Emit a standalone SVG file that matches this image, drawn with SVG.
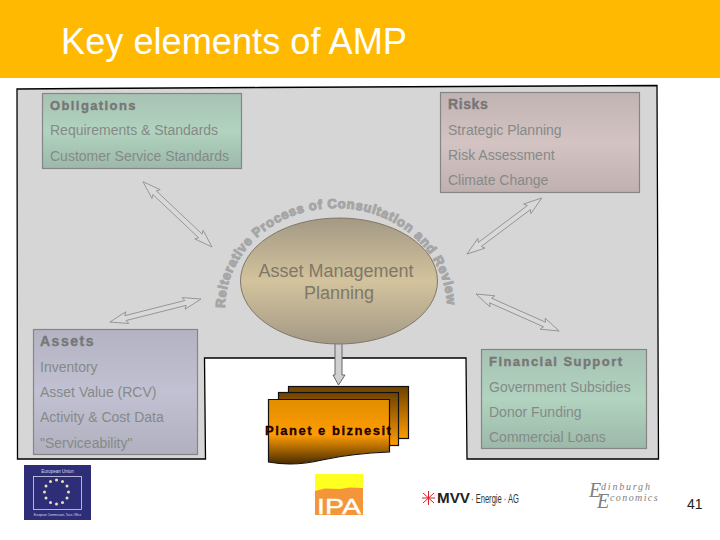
<svg xmlns="http://www.w3.org/2000/svg" width="720" height="540" viewBox="0 0 720 540">
<style>
text{font-family:"Liberation Sans",Arial,sans-serif}
.t{font-size:14px;fill:#858a88}
.h{font-size:13px;font-weight:bold;fill:#777;stroke:#777;stroke-width:.4;letter-spacing:1.4px}
.box{stroke:#858585;stroke-width:1.2}
.arr{fill:#d9d9d9;stroke:#8c8c8c;stroke-width:.8}
.doc{stroke:#111;stroke-width:1.2}
.s{font-style:italic;fill:#808080}
.s,.s *{font-family:"Liberation Serif",serif}
</style>
<defs>
<linearGradient id="gG" x1="0" y1="0" x2="0" y2="1"><stop offset="0" stop-color="#a7c2b3"/><stop offset=".5" stop-color="#b1d3bf"/><stop offset="1" stop-color="#9cb8a9"/></linearGradient>
<linearGradient id="gR" x1="0" y1="0" x2="0" y2="1"><stop offset="0" stop-color="#c2b3b3"/><stop offset=".5" stop-color="#d3c3c3"/><stop offset="1" stop-color="#c0b0b0"/></linearGradient>
<linearGradient id="gA" x1="0" y1="0" x2="0" y2="1"><stop offset="0" stop-color="#b3b3c2"/><stop offset=".5" stop-color="#c1c1d3"/><stop offset="1" stop-color="#b0b0bf"/></linearGradient>
<linearGradient id="gE" x1="0" y1="0" x2="0" y2="1"><stop offset="0" stop-color="#a39985"/><stop offset=".5" stop-color="#d3c39d"/><stop offset="1" stop-color="#a39985"/></linearGradient>
<linearGradient id="gB" x1="0" y1="0" x2="0" y2="1"><stop offset="0" stop-color="#6e4200"/><stop offset="1" stop-color="#ff9c00"/></linearGradient>
<linearGradient id="gF" x1="0" y1="0" x2="0" y2="1"><stop offset="0" stop-color="#e08e00"/><stop offset=".55" stop-color="#ff9c00"/><stop offset="1" stop-color="#4a2c00"/></linearGradient>
<path id="arc" d="M225 308 A111 100 0 0 1 447 308"/>
</defs>

<g id="header">
<rect width="720" height="78" fill="#ffb900"/>
<text x="61" y="54" font-size="36.200" fill="#fff">Key elements of AMP</text>
</g>

<g id="background">
<path d="M17 89 L84 88.500 L260 87.500 L657 85.500 L657.500 208 L658.500 459 L467 459 L466 358 L204.500 358 L205.500 459 L17.500 459 Z" fill="#d6d6d6" stroke="#000" stroke-width="1.300"/>
</g>

<g id="connectors">
<polygon class="arr" transform="translate(143 181.700) rotate(43.400)" points="0,0 18,-6 16,-2.500 79,-2.500 77,-6 95,0 77,6 79,2.500 16,2.500 18,6"/>
<polygon class="arr" transform="translate(201 299) rotate(165.800)" points="0,0 18,-6 16,-2.500 78,-2.500 76,-6 94,0 76,6 78,2.500 16,2.500 18,6"/>
<polygon class="arr" transform="translate(541.700 198) rotate(143.100)" points="0,0 18,-6 16,-2.500 77.400,-2.500 75.400,-6 93.400,0 75.400,6 77.400,2.500 16,2.500 18,6"/>
<polygon class="arr" transform="translate(476 294) rotate(24)" points="0,0 18,-6 16,-2.500 75,-2.500 73,-6 91,0 73,6 75,2.500 16,2.500 18,6"/>
<polygon points="335,343 342,343 342,375 345,375 338.500,385 333,375 335,375" fill="#d0d0d0" stroke="#666"/>
</g>

<g id="obligations">
<rect class="box" x="42.500" y="93.500" width="199" height="75" fill="url(#gG)"/>
<text class="h" x="50" y="110">Obligations</text>
<text class="t" x="50" y="135">Requirements &amp; Standards</text>
<text class="t" x="50" y="161">Customer Service Standards</text>
</g>

<g id="risks">
<rect class="box" x="440.500" y="92.500" width="199" height="100" fill="url(#gR)"/>
<text class="h" x="448" y="109" style="letter-spacing:.6px;font-size:14px">Risks</text>
<text class="t" x="448" y="135">Strategic Planning</text>
<text class="t" x="448" y="160">Risk Assessment</text>
<text class="t" x="448" y="185">Climate Change</text>
</g>

<g id="process-label">
<text font-size="13" font-weight="bold" fill="#a6a6a6" stroke="#a6a6a6" stroke-width="1.100"><textPath href="#arc" textLength="328" lengthAdjust="spacing">Reiterative Process of Consultation and Review</textPath></text>
</g>

<g id="amp">
<ellipse cx="339" cy="281" rx="98.500" ry="63" fill="url(#gE)" stroke="#7f7868"/>
<text x="336" y="277" font-size="18" fill="#7e7868" text-anchor="middle">Asset Management</text>
<text x="339" y="299" font-size="18" fill="#7e7868" text-anchor="middle">Planning</text>
</g>

<g id="assets">
<rect class="box" x="33.500" y="329.500" width="164" height="125" fill="url(#gA)"/>
<text class="h" x="40" y="346" style="letter-spacing:1.500px;font-size:14px">Assets</text>
<text class="t" x="40" y="372">Inventory</text>
<text class="t" x="40" y="397">Asset Value (RCV)</text>
<text class="t" x="40" y="422">Activity &amp; Cost Data</text>
<text class="t" x="40" y="448">"Serviceability"</text>
</g>

<g id="financial">
<rect class="box" x="481.500" y="349.500" width="165" height="99" fill="url(#gG)"/>
<text class="h" x="489" y="366" style="letter-spacing:1.450px">Financial Support</text>
<text class="t" x="489" y="392">Government Subsidies</text>
<text class="t" x="489" y="417">Donor Funding</text>
<text class="t" x="489" y="442">Commercial Loans</text>
</g>

<g id="documents">
<rect class="doc" x="288.500" y="386.500" width="120" height="52" fill="url(#gB)"/>
<rect class="doc" x="278.500" y="392.500" width="120" height="53" fill="url(#gB)"/>
<path class="doc" d="M268.500 399.500 H389.500 V452 C360 453 340 456 322 460 C305 464 285 465 268.500 462 Z" fill="url(#gF)"/>
<text x="265" y="435" font-size="13" font-weight="bold" fill="#200" stroke="#200" stroke-width=".3" style="letter-spacing:1.500px">Planet e biznesit</text>
</g>

<g id="logo-eu">
<rect x="24" y="465" width="67" height="55" fill="#2d2d78"/>
<rect x="33.500" y="476.500" width="48" height="33" fill="none" stroke="#d8d8e8" stroke-width=".8"/>
<text x="57.500" y="473" font-size="4.500" fill="#dde" text-anchor="middle">European Union</text>
<text x="57.500" y="515.500" font-size="3" fill="#dde" text-anchor="middle">European Commission, Tacis Office</text>
<g fill="#e8e4b0">
<circle cx="56.500" cy="480" r="1.500"/><circle cx="62.500" cy="481.500" r="1.500"/><circle cx="67" cy="486" r="1.500"/><circle cx="68.500" cy="492" r="1.500"/><circle cx="67" cy="498" r="1.500"/><circle cx="62.500" cy="502.500" r="1.500"/><circle cx="56.500" cy="504" r="1.500"/><circle cx="50.500" cy="502.500" r="1.500"/><circle cx="46" cy="498" r="1.500"/><circle cx="44.500" cy="492" r="1.500"/><circle cx="46" cy="486" r="1.500"/><circle cx="50.500" cy="481.500" r="1.500"/>
</g>
</g>

<g id="logo-ipa">
<rect x="315" y="474" width="48" height="41" fill="#f4953a"/>
<path d="M315 474 H363 V488 L350 487.500 L340 489 L325 488.500 L315 491 Z" fill="#ffff20"/>
<text x="317" y="514" font-size="22" fill="#fff" stroke="#fff" stroke-width=".4" textLength="44" lengthAdjust="spacingAndGlyphs">IPA</text>
</g>

<g id="logo-mvv">
<path d="M423 493 L434 503 M434 493 L423 503 M428.500 491 V505 M422 498 H435" stroke="#d8202a" stroke-width="1"/>
<text x="437" y="503" font-size="15" font-weight="bold" fill="#222" textLength="33" lengthAdjust="spacingAndGlyphs">MVV</text>
<text x="471" y="503" font-size="13" fill="#333" textLength="48" lengthAdjust="spacingAndGlyphs">· Energie · AG</text>
</g>

<g id="logo-edinburgh">
<text class="s" x="589" y="497" font-size="20">E</text>
<text class="s" x="601" y="490" font-size="10" style="letter-spacing:1.800px">dinburgh</text>
<text class="s" x="597" y="508" font-size="20">E</text>
<text class="s" x="610" y="501" font-size="10" style="letter-spacing:1.400px">conomics</text>
</g>

<g id="page-number">
<text x="687" y="509" font-size="14" fill="#222">41</text>
</g>
</svg>
